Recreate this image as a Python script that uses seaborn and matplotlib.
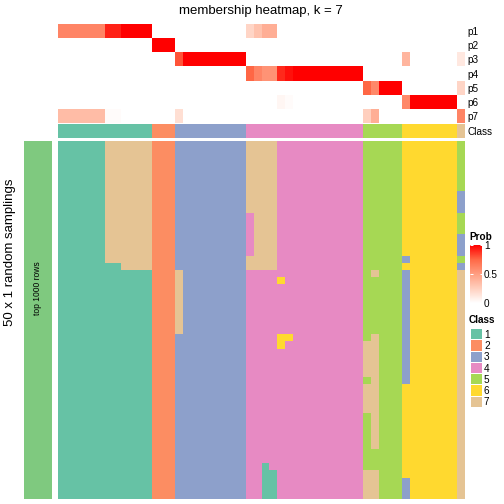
import numpy as np
import pandas as pd
import seaborn as sns
import matplotlib as mpl
import matplotlib.pyplot as plt
from matplotlib.colors import ListedColormap, LinearSegmentedColormap, Normalize

# class colours (1..7) and left annotation colour
class_colors = ["#66C2A5", "#FC8D62", "#8DA0CB", "#E78AC3", "#A6D854", "#FFD92F", "#E5C494"]
class_labels = ["1", "2", "3", "4", "5", "6", "7"]
rows_color = "#7FC97F"

# consensus class of each of the 52 samples (columns)
sample_class = [1] * 12 + [2] * 3 + [3] * 9 + [4] * 15 + [5] * 5 + [6] * 7 + [7]

# membership probabilities, one list per class (52 columns)
p1 = [0.62] * 6 + [0.92] * 2 + [1.0] * 4 + [0] * 3 + [0] * 9 + [0.22, 0.32, 0.42, 0.42] + [0] * 11 + [0] * 5 + [0] * 7 + [0]
p2 = [0] * 12 + [1.0] * 3 + [0] * 9 + [0] * 15 + [0] * 5 + [0] * 7 + [0]
p3 = [0] * 12 + [0] * 3 + [0.8] + [1.0] * 8 + [0] * 15 + [0] * 5 + [0.38] + [0] * 6 + [0.12]
p4 = [0] * 12 + [0] * 3 + [0] * 9 + [0.75, 0.62, 0.55, 0.55, 0.9, 0.96] + [1.0] * 9 + [0] * 5 + [0] * 7 + [0]
p5 = [0] * 12 + [0] * 3 + [0] * 9 + [0] * 15 + [0.75, 0.6, 1.0, 1.0, 1.0] + [0] * 7 + [0.22]
p6 = [0] * 12 + [0] * 3 + [0] * 9 + [0, 0, 0, 0, 0.05, 0.02] + [0] * 9 + [0] * 5 + [0.6] + [1.0] * 6 + [0]
p7 = [0.35] * 6 + [0.02] * 2 + [0] * 4 + [0] * 3 + [0.17] + [0] * 8 + [0] * 15 + [0.25, 0.42, 0, 0, 0] + [0] * 7 + [0.62]
prob_labels = ["p1", "p2", "p3", "p4", "p5", "p6", "p7"]

# class assignment in each of the 50 random samplings (rows) x 52 samples
samplings = [
    "111111 77 7777 222 3 33333333 7 7 7 7 4 4 444444444 5 5 555 6 666666 5",
    "111111 77 7777 222 3 33333333 7 7 7 7 4 4 444444444 5 5 555 6 666666 5",
    "111111 77 7777 222 3 33333333 7 7 7 7 4 4 444444444 5 5 555 6 666666 5",
    "111111 77 7777 222 3 33333333 7 7 7 7 4 4 444444444 5 5 555 6 666666 5",
    "111111 77 7777 222 3 33333333 7 7 7 7 4 4 444444444 5 5 555 6 666666 5",
    "111111 77 7777 222 3 33333333 7 7 7 7 4 4 444444444 5 5 555 6 666666 5",
    "111111 77 7777 222 3 33333333 7 7 7 7 4 4 444444444 5 5 555 6 666666 5",
    "111111 77 7777 222 3 33333333 7 7 7 7 4 4 444444444 5 5 555 6 666666 3",
    "111111 77 7777 222 3 33333333 7 7 7 7 4 4 444444444 5 5 555 6 666666 3",
    "111111 77 7777 222 3 33333333 7 7 7 7 4 4 444444444 5 5 555 6 666666 3",
    "111111 77 7777 222 3 33333333 4 7 7 7 4 4 444444444 5 5 555 6 666666 5",
    "111111 77 7777 222 3 33333333 4 7 7 7 4 4 444444444 5 5 555 6 666666 5",
    "111111 77 7777 222 3 33333333 4 7 7 7 4 4 444444444 5 5 555 6 666666 5",
    "111111 77 7777 222 3 33333333 4 7 7 7 4 4 444444444 5 5 555 6 666666 3",
    "111111 77 7777 222 3 33333333 4 7 7 7 4 4 444444444 5 5 555 6 666666 3",
    "111111 77 7777 222 3 33333333 4 7 7 7 4 4 444444444 5 5 555 6 666666 3",
    "111111 77 7777 222 3 33333333 7 7 7 7 4 4 444444444 5 5 555 3 666666 5",
    "111111 11 7777 222 3 33333333 7 7 7 7 4 4 444444444 5 5 555 6 666666 3",
    "111111 11 1111 222 7 33333333 4 4 4 4 4 4 444444444 5 7 555 3 666666 7",
    "111111 11 1111 222 7 33333333 4 4 4 4 6 4 444444444 5 5 555 3 666666 7",
    "111111 11 1111 222 7 33333333 4 4 4 4 4 4 444444444 5 5 555 3 666666 7",
    "111111 11 1111 222 7 33333333 4 4 4 4 4 4 444444444 5 5 555 3 666666 7",
    "111111 11 1111 222 7 33333333 4 4 4 4 4 4 444444444 5 5 555 3 666666 7",
    "111111 11 1111 222 7 33333333 4 4 4 4 4 4 444444444 5 5 555 3 666666 7",
    "111111 11 1111 222 7 33333333 4 4 4 4 4 4 444444444 5 5 555 3 666666 7",
    "111111 11 1111 222 7 33333333 4 4 4 4 4 4 444444444 5 5 555 3 666666 7",
    "111111 11 1111 222 7 33333333 4 4 4 4 4 4 444444444 5 5 555 3 666666 7",
    "111111 11 1111 222 3 33333333 4 4 4 4 6 6 444444444 5 7 555 3 666666 7",
    "111111 11 1111 222 3 33333333 4 4 4 4 6 4 444444444 7 7 555 3 666666 7",
    "111111 11 1111 222 3 33333333 4 4 4 4 4 4 444444444 7 7 555 3 666666 7",
    "111111 11 1111 222 3 33333333 4 4 4 4 4 4 444444444 7 7 555 3 666666 7",
    "111111 11 1111 222 3 33333333 4 4 4 4 4 4 444444444 7 7 555 3 666666 7",
    "111111 11 1111 222 3 33333333 4 4 4 4 4 4 444444444 7 7 555 3 666666 7",
    "111111 11 1111 222 3 33333333 4 4 4 4 4 4 444444444 5 7 555 3 666666 7",
    "111111 11 1111 222 3 33333333 4 4 4 4 4 4 444444444 7 7 555 6 666666 7",
    "111111 11 1111 222 3 33333333 4 4 4 4 4 4 444444444 7 7 555 6 666666 7",
    "111111 11 1111 222 3 33333333 4 4 4 4 4 4 444444444 7 7 555 6 666666 7",
    "111111 11 1111 222 3 33333333 4 4 4 4 4 4 444444444 7 7 555 6 666666 7",
    "111111 11 1111 222 3 33333333 4 4 4 4 4 4 444444444 5 7 555 6 666666 7",
    "111111 11 1111 222 3 33333333 4 4 4 4 4 4 444444444 5 7 555 6 666666 7",
    "111111 11 1111 222 3 33333333 4 4 4 4 4 4 444444444 5 7 555 6 666666 7",
    "111111 11 1111 222 3 33333333 4 4 4 4 4 4 444444444 5 7 555 6 666666 7",
    "111111 11 1111 222 3 33333333 4 4 4 4 4 4 444444444 5 7 555 6 666666 7",
    "111111 11 1111 222 3 33333333 4 4 4 4 4 4 444444444 5 5 555 6 666666 7",
    "111111 11 1111 222 3 33333333 4 4 4 4 4 4 444444444 5 5 555 6 666666 7",
    "111111 11 1111 222 3 33333333 4 4 1 4 4 4 444444444 5 5 555 6 666666 7",
    "111111 11 1111 222 3 33333333 4 4 1 1 4 4 444444444 7 7 555 6 666666 7",
    "111111 11 1111 222 3 33333333 4 4 1 1 4 4 444444444 7 7 555 3 666666 7",
    "111111 11 1111 222 3 33333333 4 4 1 1 4 4 444444444 7 7 555 3 666666 7",
    "111111 11 1111 222 3 33333333 4 4 1 1 4 4 444444444 7 7 555 3 666666 7",
]

plt.rcParams['font.family'] = ['Liberation Sans', 'DejaVu Sans']

membership = pd.DataFrame([[int(ch) for ch in s.replace(" ", "")] for s in samplings])
probs = pd.DataFrame([p1, p2, p3, p4, p5, p6, p7], index=prob_labels)

class_cmap = ListedColormap(class_colors)
prob_cmap = LinearSegmentedColormap.from_list(
    "prob", [(0, "#FFFFFF"), (0.25, "#FFCFBE"), (0.5, "#FF9E81"), (0.75, "#FF6846"), (1, "#FF0000")])

W = H = 504


def box(x0, y0, x1, y1):
    # pixel box -> figure fraction rect
    return [x0 / W, 1 - y1 / H, (x1 - x0) / W, (y1 - y0) / H]


fig = plt.figure(figsize=(7, 7), dpi=72)

# top: probability rows
ax_prob = fig.add_axes(box(58, 24, 465, 123))
sns.heatmap(probs, ax=ax_prob, cmap=prob_cmap, vmin=0, vmax=1, cbar=False,
            xticklabels=False, yticklabels=True)
ax_prob.yaxis.tick_right()
ax_prob.set_yticklabels(prob_labels, rotation=0, fontsize=10)
ax_prob.tick_params(length=0, pad=2)
ax_prob.set_ylabel("")

# class annotation bar
ax_cls = fig.add_axes(box(58, 124, 465, 138))
sns.heatmap([sample_class], ax=ax_cls, cmap=class_cmap, vmin=0.5, vmax=7.5, cbar=False,
            xticklabels=False, yticklabels=["Class"])
ax_cls.yaxis.tick_right()
ax_cls.set_yticklabels(["Class"], rotation=0, fontsize=10)
ax_cls.tick_params(length=0, pad=2)

# main heatmap
ax_main = fig.add_axes(box(58, 141, 465, 499))
sns.heatmap(membership, ax=ax_main, cmap=class_cmap, vmin=0.5, vmax=7.5, cbar=False,
            xticklabels=False, yticklabels=False)

# left annotation
ax_left = fig.add_axes(box(24, 141, 52, 499))
ax_left.set_facecolor(rows_color)
ax_left.set_xticks([])
ax_left.set_yticks([])
for sp in ax_left.spines.values():
    sp.set_visible(False)
fig.text(38 / W, 1 - 288 / H, "top 1000 rows", rotation=90, ha="center", va="center", fontsize=8.5)

fig.text(10 / W, 1 - 252 / H, "50 x 1 random samplings", rotation=90,
         ha="center", va="center", fontsize=13.2)
fig.text(261 / W, 1 - 11 / H, "membership heatmap, k = 7", ha="center", va="center", fontsize=13.2)

# Prob legend
fig.text(469 / W, 1 - 237 / H, "Prob", ha="left", va="center", fontsize=10, fontweight="bold")
cax = fig.add_axes(box(470, 245, 482, 303))
cb = mpl.colorbar.ColorbarBase(cax, cmap=prob_cmap, norm=Normalize(0, 1), ticks=[0, 0.5, 1])
cb.outline.set_visible(False)
cax.set_yticklabels(["0", "0.5", "1"])
cax.tick_params(direction="in", colors="white", length=2.5, width=1, left=True, right=True,
                labelleft=False, labelright=True, labelsize=10, labelcolor="black", pad=2)

# Class legend
fig.text(469 / W, 1 - 320 / H, "Class", ha="left", va="center", fontsize=10, fontweight="bold")
lax = fig.add_axes(box(470, 328, 482, 407))
sns.heatmap(pd.DataFrame({"c": range(1, 8)}), ax=lax, cmap=class_cmap, vmin=0.5, vmax=7.5,
            cbar=False, linewidths=1, linecolor="white", xticklabels=False, yticklabels=class_labels)
lax.yaxis.tick_right()
lax.set_yticklabels(class_labels, rotation=0, fontsize=10)
lax.tick_params(length=0, pad=2)

fig.savefig("out.png", dpi=72)
